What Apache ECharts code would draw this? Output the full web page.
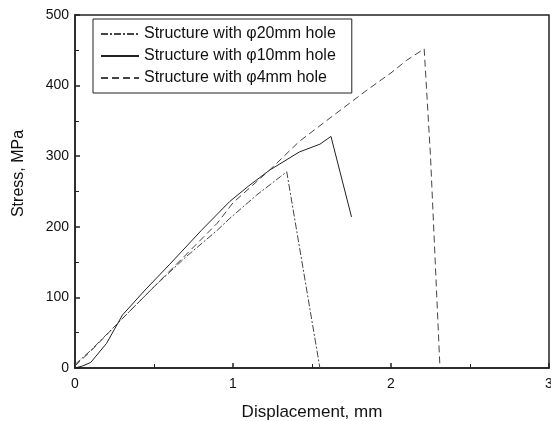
<!DOCTYPE html>
<html>
<head>
<meta charset="utf-8">
<script src="https://cdn.jsdelivr.net/npm/echarts@6/dist/echarts.min.js"></script>
<style>
    html, body { margin: 0; padding: 0; background: #fff; }
    #chart { width: 551px; height: 421px; }
</style>
</head>
<body>
<div id="chart"></div>
<script>
let chart = echarts.init(document.getElementById('chart'))

// φ20mm hole (dash-dot)
const disp20 = [0, 0.1, 0.3, 0.5, 0.7, 0.9, 0.98, 1.15, 1.3, 1.34, 1.55]
const stress20 = [5, 25, 70, 115, 157, 195, 212, 245, 271, 278, 0]
// φ10mm hole (solid)
const disp10 = [0, 0.05, 0.1, 0.2, 0.3, 0.45, 0.6, 0.8, 0.98, 1.1, 1.23, 1.42, 1.55, 1.62, 1.75]
const stress10 = [0, 3, 8, 35, 75, 112, 147, 195, 236, 258, 280, 306, 317, 328, 214]
// φ4mm hole (dashed)
const disp4 = [0, 0.1, 0.3, 0.5, 0.7, 0.9, 1.0, 1.23, 1.42, 1.59, 1.85, 2.0, 2.1, 2.21, 2.25, 2.31]
const stress4 = [3, 24, 70, 115, 160, 205, 234, 280, 321, 350, 394, 418, 436, 452, 300, 0]

const names = ['Structure with φ20mm hole', 'Structure with φ10mm hole', 'Structure with φ4mm hole']

const pairs = (xs, ys) => xs.map((x, i) => [x, ys[i]])

let option = {
    animation: false,
    textStyle: { fontFamily: 'Liberation Sans, Arial, sans-serif' },
    grid: {
        left: 75,
        right: 2,
        top: 15,
        bottom: 53,
        outerBoundsMode: 'none',
        show: true,
        borderColor: '#222',
        borderWidth: 1.5
    },
    legend: {
        orient: 'vertical',
        left: 93,
        top: 19,
        padding: [6, 16, 6, 7],
        itemWidth: 38,
        itemHeight: 14,
        itemGap: 4,
        borderColor: '#222',
        borderWidth: 1,
        backgroundColor: '#fff',
        itemStyle: { opacity: 0 },
        textStyle: { fontSize: 16, lineHeight: 18, color: '#111' },
        data: names
    },
    xAxis: {
        type: 'value',
        min: 0,
        max: 3,
        interval: 1,
        name: 'Displacement, mm',
        nameLocation: 'middle',
        nameGap: 36,
        nameTextStyle: { fontSize: 17, color: '#111' },
        axisLine: { lineStyle: { color: '#222', width: 1.5 } },
        axisTick: { inside: true, length: 5, lineStyle: { color: '#222', width: 1.5 } },
        minorTick: { show: true, splitNumber: 2, length: 4, lineStyle: { color: '#222', width: 1 } },
        axisLabel: { fontSize: 14, color: '#111', margin: 9 },
        splitLine: { show: false }
    },
    yAxis: {
        type: 'value',
        min: 0,
        max: 500,
        interval: 100,
        name: 'Stress, MPa',
        nameLocation: 'middle',
        nameGap: 48,
        nameTextStyle: { fontSize: 16, color: '#111', padding: [0, 0, 0, 36] },
        axisLine: { show: true, lineStyle: { color: '#222', width: 1.5 } },
        axisTick: { show: true, inside: true, length: 5, lineStyle: { color: '#222', width: 1.5 } },
        minorTick: { show: true, splitNumber: 2, length: 4, lineStyle: { color: '#222', width: 1 } },
        axisLabel: { fontSize: 14, color: '#111', margin: 6 },
        splitLine: { show: false }
    },
    series: [
        {
            name: names[0],
            type: 'line',
            symbol: 'none',
            color: '#444',
            lineStyle: { color: '#444', width: 1, type: [7, 2, 2, 2] },
            data: pairs(disp20, stress20)
        },
        {
            name: names[1],
            type: 'line',
            symbol: 'none',
            color: '#222',
            lineStyle: { color: '#222', width: 1, type: 'solid' },
            data: pairs(disp10, stress10)
        },
        {
            name: names[2],
            type: 'line',
            symbol: 'none',
            color: '#444',
            lineStyle: { color: '#444', width: 1, type: [7, 4] },
            data: pairs(disp4, stress4)
        }
    ]
}

chart.setOption(option)
</script>
</body>
</html>
